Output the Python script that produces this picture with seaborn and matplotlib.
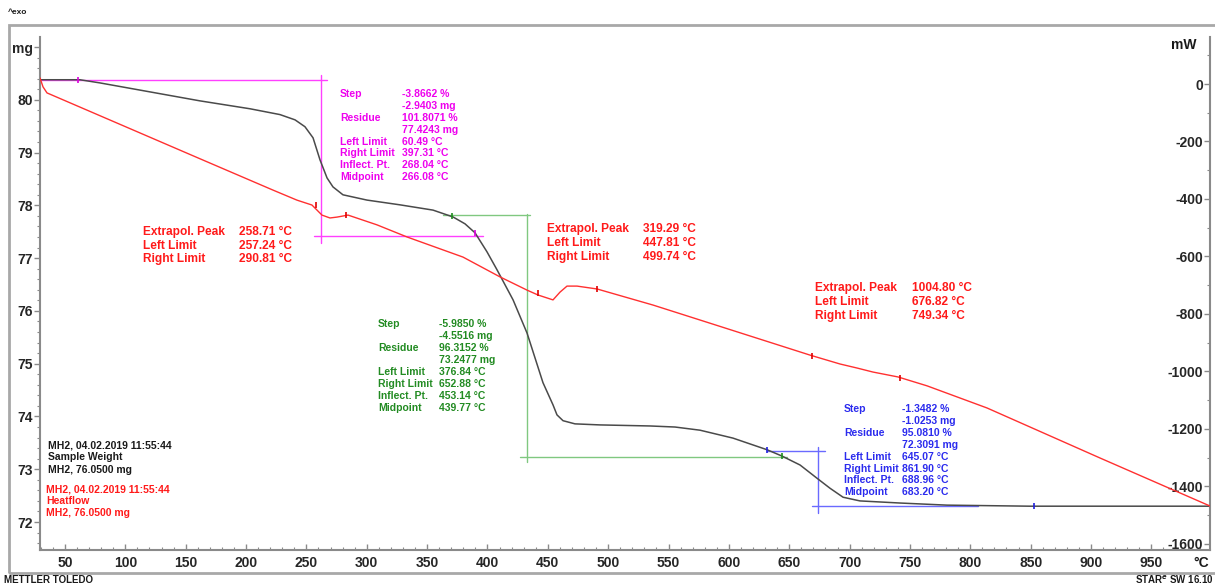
import matplotlib
matplotlib.use("Agg")
import matplotlib.pyplot as plt
import seaborn as sns
import pandas as pd
import numpy as np
from matplotlib.patches import Rectangle
from matplotlib.ticker import MultipleLocator

W, H = 1215, 585

# TGA curve (sample weight, mg)
tga_temp = [29.3, 62.4, 79, 120.4, 161.8, 203.3, 228.1, 240.6, 248.8, 255.5, 261.3, 267.1,
            272.0, 280.3, 300.2, 327.5, 354.9, 371.5, 381.4, 389.7, 399.6, 407.9, 421.2,
            432.8, 446.0, 454.3, 457.6, 462.6, 472.5, 493.2, 534.7, 555.4, 576.1, 603.4, 631.6,
            644.0, 659.0, 673.0, 683.8, 694.6, 708.6, 741.8, 780.7, 849.5, 998.6]
tga_mg = [80.38, 80.38, 80.32, 80.15, 79.98, 79.83, 79.72, 79.62, 79.49, 79.28, 78.86, 78.52,
          78.35, 78.20, 78.10, 78.01, 77.91, 77.78, 77.65, 77.48, 77.12, 76.78, 76.21,
          75.58, 74.64, 74.22, 74.03, 73.92, 73.86, 73.84, 73.82, 73.80, 73.74, 73.59, 73.37,
          73.25, 73.08, 72.83, 72.64, 72.47, 72.40, 72.36, 72.32, 72.30, 72.30]

# DSC curve (heat flow, mW)
dsc_temp = [29.3, 31.8, 35.1, 161.8, 222.3, 242.2, 254.6, 262.9, 269.5, 275.3, 284.5, 308.5,
            333.3, 379.7, 410.4, 432.8, 441.9, 454.3, 460.1, 465.9, 474.2, 490.8, 537.2,
            576.1, 667.2, 692.1, 706.2, 719.4, 740.1, 764.2, 813.9, 907.5, 998.6]
dsc_mw = [21, -10, -31, -260, -369, -404, -421, -456, -466, -463, -456, -490,
          -532, -602, -671, -717, -734, -751, -724, -703, -703, -713, -769,
          -821, -943, -974, -988, -1002, -1019, -1050, -1127, -1301, -1468]

# step evaluations (magenta, green, blue)
step_mid_temp = [262, 433, 674]
step_upper_mg = [80.38, 77.82, 73.35]
step_lower_mg = [77.42, 73.23, 72.30]
step_upper_span = [(29.3, 267), (363, 435), (632, 680)]
step_lower_span = [(256, 396), (427, 648), (669, 806)]
step_vert_top = [80.47, 77.84, 73.42]
step_vert_bottom = [77.29, 73.14, 72.17]
step_mark_temp = [(60.5, 390), (371, 644), (632, 853)]
step_mark_mg = [(80.38, 77.48), (77.80, 73.25), (73.37, 72.30)]

# peak limit marks on the DSC curve
peak_mark_temp = [258, 283, 442, 491, 669, 742]
peak_mark_mw = [-421, -456, -728, -713, -945, -1023]

step_labels = ["Step", "", "Residue", "", "Left Limit", "Right Limit", "Inflect. Pt.", "Midpoint"]
step1_values = ["-3.8662 %", "-2.9403 mg", "101.8071 %", "77.4243 mg",
                "60.49 °C", "397.31 °C", "268.04 °C", "266.08 °C"]
step2_values = ["-5.9850 %", "-4.5516 mg", "96.3152 %", "73.2477 mg",
                "376.84 °C", "652.88 °C", "453.14 °C", "439.77 °C"]
step3_values = ["-1.3482 %", "-1.0253 mg", "95.0810 %", "72.3091 mg",
                "645.07 °C", "861.90 °C", "688.96 °C", "683.20 °C"]

peak_labels = ["Extrapol. Peak", "Left Limit", "Right Limit"]
peak1_values = ["258.71 °C", "257.24 °C", "290.81 °C"]
peak2_values = ["319.29 °C", "447.81 °C", "499.74 °C"]
peak3_values = ["1004.80 °C", "676.82 °C", "749.34 °C"]

info_black = ["MH2, 04.02.2019 11:55:44", "Sample Weight", "MH2, 76.0500 mg"]
info_red = ["MH2, 04.02.2019 11:55:44", "Heatflow", "MH2, 76.0500 mg"]

x_ticks = list(range(50, 1000, 50))
mg_ticks = list(range(72, 82))
mw_ticks = list(range(-1600, 1, 200))


def px(x, y):
    # pixel position in the picture -> figure fraction
    return x / W, 1 - y / H


def text_block(fig, x_lab, x_val, y0, dy, labels, values, color, size):
    for i, (lab, val) in enumerate(zip(labels, values)):
        y = y0 + i * dy
        if lab:
            fig.text(*px(x_lab, y), lab, color=color, fontsize=size, va="center", ha="left")
        fig.text(*px(x_val, y), val, color=color, fontsize=size, va="center", ha="left")


sns.set_theme(style="white")
plt.rcParams["font.family"] = ["Liberation Sans", "DejaVu Sans"]
plt.rcParams["font.weight"] = "bold"
plt.rcParams["axes.unicode_minus"] = False

fig = plt.figure(figsize=(W / 100, H / 100), dpi=100)
ax = fig.add_axes([40 / W, 1 - 550 / H, 1170 / W, 513 / H])
ax.set_facecolor("none")
ax2 = ax.twinx()

# curves
tga = pd.DataFrame({"temp": tga_temp, "mg": tga_mg})
dsc = pd.DataFrame({"temp": dsc_temp, "mw": dsc_mw})
sns.lineplot(data=tga, x="temp", y="mg", ax=ax, color="#4a4a4a", linewidth=1.1,
             sort=False, estimator=None, zorder=3)
sns.lineplot(data=dsc, x="temp", y="mw", ax=ax2, color="#ff3030", linewidth=1.0,
             sort=False, estimator=None, zorder=3)

# step evaluation lines
line_colors = ["#ff40ff", "#80c880", "#6a6aff"]
mark_colors = ["#dd00dd", "#1f8f1f", "#2020dd"]
for i in range(3):
    c = line_colors[i]
    ax.plot(step_upper_span[i], [step_upper_mg[i]] * 2, color=c, lw=1.0, zorder=2)
    ax.plot(step_lower_span[i], [step_lower_mg[i]] * 2, color=c, lw=1.0, zorder=2)
    ax.plot([step_mid_temp[i]] * 2, [step_vert_top[i], step_vert_bottom[i]], color=c, lw=1.0, zorder=2)
    ax.plot(step_mark_temp[i], step_mark_mg[i], ls="none", marker="|", ms=5,
            mew=1.2, color=mark_colors[i], zorder=4)

ax2.plot(peak_mark_temp, peak_mark_mw, ls="none", marker="|", ms=5, mew=1.2,
         color="#e00000", zorder=4)

# axes limits and ticks
ax.set_xlim(29.3, 998.6)
ax.set_ylim(71.47, 81.19)
ax2.set_ylim(-1621, 163.5)

ax.set_xticks(x_ticks)
ax.set_xticklabels([str(t) for t in x_ticks])
ax.set_yticks(mg_ticks)
ax.set_yticklabels([str(t) for t in mg_ticks[:-1]] + ["mg"])
ax.xaxis.set_minor_locator(MultipleLocator(10))
ax.yaxis.set_minor_locator(MultipleLocator(0.2))
ax2.set_yticks(mw_ticks)
ax2.yaxis.set_minor_locator(MultipleLocator(100))

ax.set_xlabel("")
ax.set_ylabel("")
ax2.set_ylabel("")

spine_c = "#8a8a8a"
for a in (ax, ax2):
    for s in a.spines.values():
        s.set_visible(False)
ax.spines["left"].set_visible(True)
ax.spines["bottom"].set_visible(True)
ax2.spines["right"].set_visible(True)
for s in (ax.spines["left"], ax.spines["bottom"], ax2.spines["right"]):
    s.set_color(spine_c)
    s.set_linewidth(1.5)

ax.tick_params(axis="x", which="major", direction="in", length=4, width=1, color=spine_c,
               labelsize=10, pad=4, bottom=True)
ax.tick_params(axis="x", which="minor", direction="in", length=2.5, width=0.8, color=spine_c, bottom=True)
ax.tick_params(axis="y", which="major", direction="out", length=4, width=1, color=spine_c,
               labelsize=10, pad=1, left=True)
ax.tick_params(axis="y", which="minor", direction="out", length=2.5, width=0.8, color=spine_c, left=True)
ax2.tick_params(axis="y", which="major", direction="in", length=4, width=1, color=spine_c,
                labelsize=10, pad=-5, right=True)
ax2.tick_params(axis="y", which="minor", direction="in", length=2.5, width=0.8, color=spine_c, right=True)
for lab in ax2.get_yticklabels():
    lab.set_horizontalalignment("right")
for lab in ax.get_xticklabels() + ax.get_yticklabels() + ax2.get_yticklabels():
    lab.set_fontweight("bold")

# annotations
text_block(fig, 340, 402, 94, 11.9, step_labels, step1_values, "#ee00ee", 7.5)
text_block(fig, 378, 439, 324, 12.0, step_labels, step2_values, "#228b22", 7.5)
text_block(fig, 844, 902, 409, 11.9, step_labels, step3_values, "#2b2bee", 7.5)
text_block(fig, 143, 239, 232, 13.7, peak_labels, peak1_values, "#ff1a1a", 8.6)
text_block(fig, 547, 643, 229, 13.8, peak_labels, peak2_values, "#ff1a1a", 8.6)
text_block(fig, 815, 912, 288, 13.9, peak_labels, peak3_values, "#ff1a1a", 8.6)
text_block(fig, 48, 48, 445, 12.5, [""] * 3, info_black, "#1a1a1a", 7.5)
text_block(fig, 46, 46, 489, 12.2, [""] * 3, info_red, "#ff1a1a", 7.5)

fig.text(*px(1196, 45), "mW", fontsize=10, ha="right", va="center", color="#1a1a1a")
fig.text(*px(1209, 563), "°C", fontsize=10, ha="right", va="center", color="#1a1a1a")
fig.text(*px(8, 12), "^exo", fontsize=6, ha="left", va="center", color="#1a1a1a")
fig.text(*px(4, 580), "METTLER TOLEDO", fontsize=7, ha="left", va="center", color="#1a1a1a")
fig.text(*px(1214, 580), r"STAR$^{e}$ SW 16.10", fontsize=7, ha="right", va="center", color="#1a1a1a")

# outer grey frame
fig.patches.append(Rectangle(px(9, 573), (W - 9) / W + 0.01, 548 / H, fill=False,
                             edgecolor="#a8a8a8", lw=2, transform=fig.transFigure, figure=fig))

fig.savefig("out.png", dpi=100)
plt.close(fig)
